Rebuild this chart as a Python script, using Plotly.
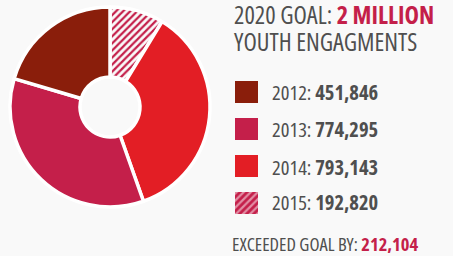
import plotly.graph_objects as go

years = ["2012", "2013", "2014", "2015"]
values = [451846, 774295, 793143, 192820]
value_labels = ["451,846", "774,295", "793,143", "192,820"]
colors = ["#8a1e0b", "#c41f4a", "#e31e25", "#ffffff"]
patterns = ["", "", "", "/"]
hatch_color = "#c41f4a"
goal_text = "2 MILLION"
exceeded_text = "212,104"

GRAY = "#4f4f4f"
BG = "#f9f9f9"
COND = "font-family:Open Sans;font-stretch:75%"

fig = go.Figure()
order = list(reversed(range(len(years))))
fig.add_trace(go.Pie(
    labels=[years[i] for i in order],
    values=[values[i] for i in order],
    sort=False, direction="clockwise", rotation=0, hole=0.3,
    marker=dict(colors=[colors[i] for i in order],
                line=dict(color="white", width=3.5),
                pattern=dict(shape=[patterns[i] for i in order],
                             fgcolor=[hatch_color]*4, size=5, solidity=0.45)),
    textinfo="none", hoverinfo="label+value",
    domain=dict(x=[10/453, 210/453], y=[1-207/256, 1-7/256]),
    showlegend=False,
))
# legend swatches: solid fills, then hatch overlay for the patterned year
fig.add_trace(go.Bar(
    y=years, x=[1]*len(years), orientation="h", width=0.6,
    marker=dict(color=colors, line=dict(width=0)),
    xaxis="x", yaxis="y", showlegend=False, hoverinfo="skip",
))
hatched = [i for i, p in enumerate(patterns) if p]
fig.add_trace(go.Bar(
    y=[years[i] for i in hatched], x=[1]*len(hatched), orientation="h", width=0.6,
    marker=dict(color=hatch_color, line=dict(width=0),
                pattern=dict(shape=[patterns[i] for i in hatched], fillmode="overlay",
                             size=5, solidity=0.45)),
    xaxis="x", yaxis="y", showlegend=False, hoverinfo="skip",
))
row_px = [92, 129, 167, 202]
y_top = row_px[0] - 18.5
y_bot = row_px[-1] + 18.5
fig.update_layout(
    width=453, height=256, margin=dict(l=0, r=0, t=0, b=0),
    paper_bgcolor=BG, plot_bgcolor="rgba(0,0,0,0)",
    xaxis=dict(domain=[235/453, 258/453], range=[0, 1], visible=False, fixedrange=True),
    yaxis=dict(domain=[1-y_bot/256, 1-y_top/256], autorange="reversed", visible=False, fixedrange=True),
    bargap=0, barmode="overlay",
)

def A(x, y, text, size):
    return dict(x=x/453, y=1-y/256, xref="paper", yref="paper",
                xanchor="left", yanchor="middle", showarrow=False, borderpad=0,
                text=f"<span style='{COND}'>{text}</span>",
                font=dict(size=size, color=GRAY))

ann = [
    A(233, 14, f"2020 GOAL: <b><span style='color:{hatch_color}'>{goal_text}</span></b>", 24.5),
    A(233, 41, "YOUTH ENGAGMENTS", 24.5),
]
for yr, lab, py in zip(years, value_labels, row_px):
    ann.append(A(271, py, f"{yr}: <b>{lab}</b>", 20.5))
ann.append(A(231, 243, f"EXCEEDED GOAL BY: <b><span style='color:{hatch_color}'>{exceeded_text}</span></b>", 18.5))
fig.update_layout(annotations=ann)
fig.write_html("out.html", config={"displayModeBar": False},
               post_script="document.body.style.margin='0';")
